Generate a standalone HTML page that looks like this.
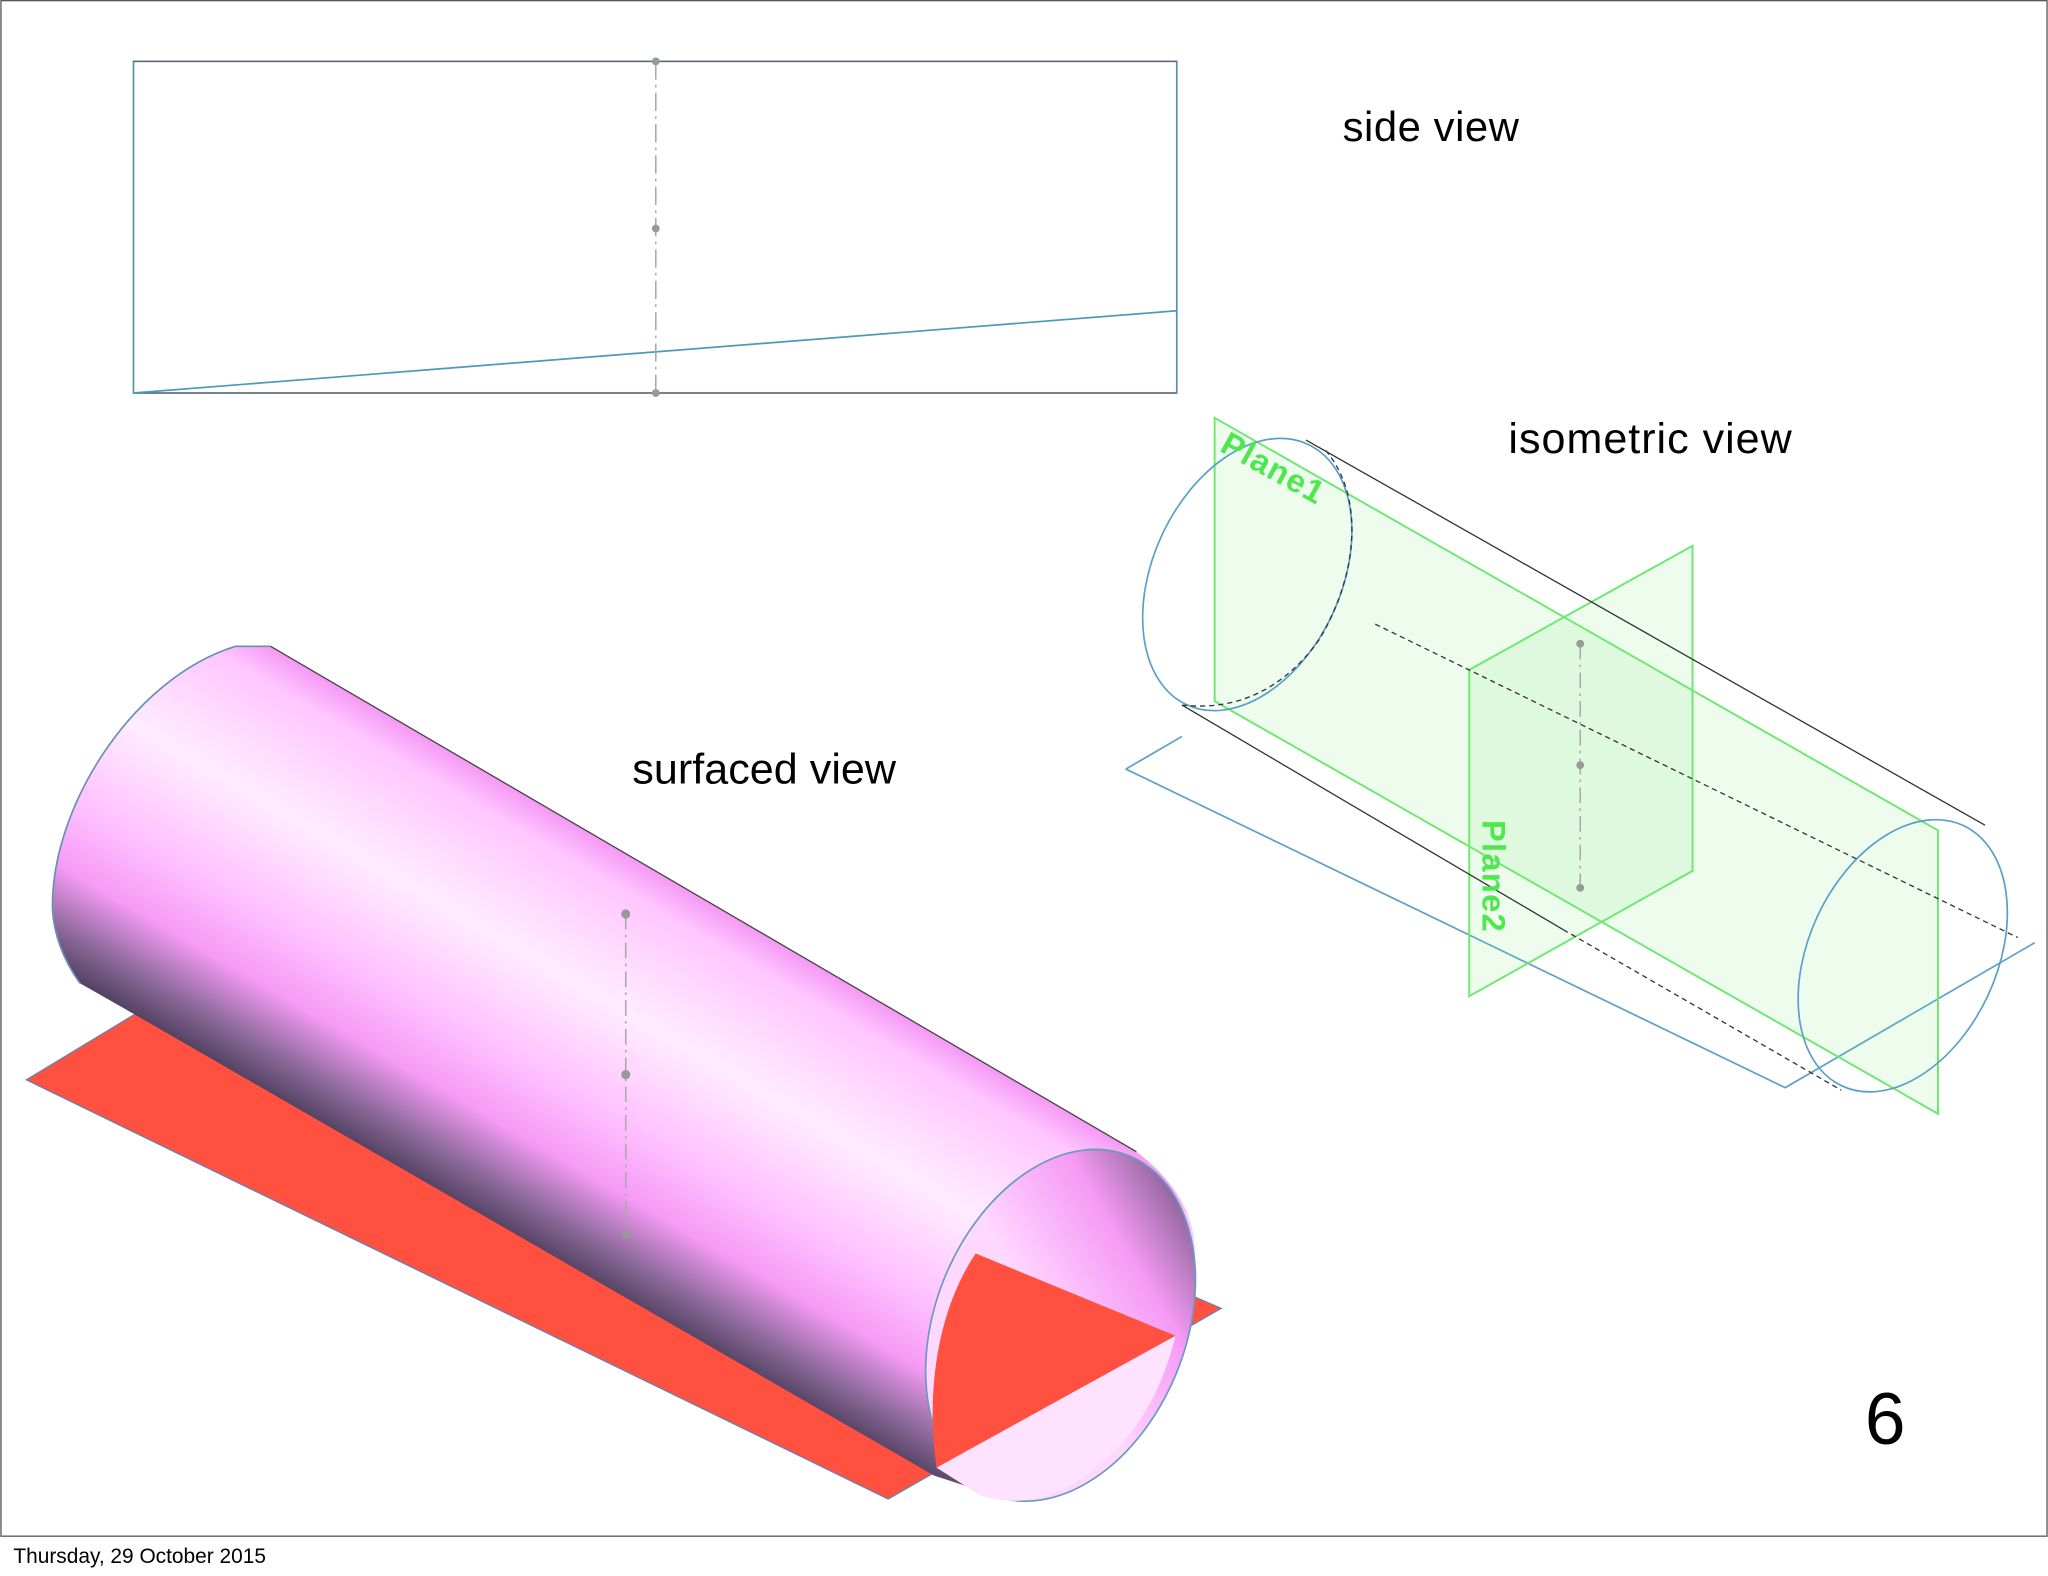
<!DOCTYPE html>
<html><head><meta charset="utf-8"><style>
html,body{margin:0;padding:0;background:#fff;}
svg{display:block;}
</style></head><body>
<svg width="2048" height="1576" viewBox="0 0 1568 1207" xmlns="http://www.w3.org/2000/svg" font-family="'Liberation Sans', sans-serif">
<defs>
<linearGradient id="cyl" gradientUnits="userSpaceOnUse" x1="500" y1="667" x2="350" y2="924">
<stop offset="0" stop-color="#f59af5"/>
<stop offset="0.08" stop-color="#ffc6ff"/>
<stop offset="0.35" stop-color="#ffecff"/>
<stop offset="0.6" stop-color="#ffc0ff"/>
<stop offset="0.76" stop-color="#f59af5"/>
<stop offset="0.9" stop-color="#8a6898"/>
<stop offset="1" stop-color="#4e3f5e"/>
</linearGradient>
<linearGradient id="inner" gradientUnits="userSpaceOnUse" x1="880" y1="890" x2="790" y2="1010">
<stop offset="0" stop-color="#7a5a88"/>
<stop offset="0.45" stop-color="#f59af5"/>
<stop offset="1" stop-color="#ffd8ff"/>
</linearGradient>
</defs>
<rect x="0.5" y="0.5" width="1567" height="1176" fill="#fff" stroke="#555" stroke-width="1"/>
<text x="10" y="1197" font-size="16" fill="#000">Thursday, 29 October 2015</text>

<!-- side view -->
<rect x="102" y="47" width="799" height="254" fill="none" stroke="#5a8fb0" stroke-width="1.3"/>
<line x1="102" y1="47" x2="901" y2="47" stroke="#666" stroke-width="1"/>
<line x1="102" y1="301" x2="901" y2="301" stroke="#666" stroke-width="1"/>
<line x1="102" y1="301" x2="901" y2="238" stroke="#4a9ab8" stroke-width="1.3"/>
<line x1="502" y1="47" x2="502" y2="301" stroke="#aaa" stroke-width="1.2" stroke-dasharray="14,4,2,4"/>
<circle cx="502" cy="47" r="3" fill="#999"/><circle cx="502" cy="175" r="3" fill="#999"/><circle cx="502" cy="301" r="3" fill="#999"/>
<text x="1028" y="108" font-size="32" fill="#000" textLength="135">side view</text>

<!-- isometric view -->
<text x="1155" y="347" font-size="33" fill="#000" textLength="217">isometric view</text>
<line x1="862" y1="589" x2="905" y2="564" stroke="#5aa0c8" stroke-width="1.3"/>
<polyline points="862,589 1367,833 1558,722" fill="none" stroke="#5aa0c8" stroke-width="1.3"/>
<polygon points="930,320 1484,636 1484,853 930,537" fill="rgba(120,235,120,0.13)" stroke="#6ee86e" stroke-width="1.5"/>
<polygon points="1125,513 1296,418 1296,667 1125,763" fill="rgba(120,235,120,0.13)" stroke="#6ee86e" stroke-width="1.5"/>
<ellipse cx="955" cy="440" rx="72" ry="110" transform="rotate(25 955 440)" fill="none" stroke="#5aa0c8" stroke-width="1.3"/>
<ellipse cx="1457" cy="732" rx="72" ry="110" transform="rotate(25 1457 732)" fill="none" stroke="#5aa0c8" stroke-width="1.3"/>
<line x1="1000" y1="337" x2="1520" y2="632" stroke="#333" stroke-width="1"/>
<line x1="905" y1="540" x2="1197" y2="712" stroke="#333" stroke-width="1"/>
<line x1="1197" y1="712" x2="1410" y2="835" stroke="#333" stroke-width="1" stroke-dasharray="4,3"/>
<line x1="1053" y1="478" x2="1545" y2="718" stroke="#333" stroke-width="1" stroke-dasharray="4,3"/>
<path d="M1015,345 C1045,380 1040,440 1010,490 C985,525 950,545 905,540" fill="none" stroke="#333" stroke-width="1" stroke-dasharray="4,3"/>
<line x1="1210" y1="493" x2="1210" y2="680" stroke="#aaa" stroke-width="1.2" stroke-dasharray="12,4,2,4"/>
<circle cx="1210" cy="493" r="3" fill="#999"/><circle cx="1210" cy="586" r="3" fill="#999"/><circle cx="1210" cy="680" r="3" fill="#999"/>
<text x="933" y="345" font-size="25" font-weight="bold" fill="#4ee84e" transform="rotate(29 933 345)" letter-spacing="1">Plane1</text>
<text x="1135" y="628" font-size="25" font-weight="bold" fill="#4ee84e" transform="rotate(90 1135 628)" letter-spacing="1">Plane2</text>

<!-- surfaced view -->
<text x="484" y="600" font-size="33" fill="#000" textLength="202">surfaced view</text>
<polygon points="20,827 230,700 935,1002 680,1148" fill="#ff5040" stroke="#6a80b0" stroke-width="1"/>
<path d="M40,697 C38,620 100,520 180,495 L207,495 L870,882 C900,905 915,930 915,960 L900,1020 C880,1080 830,1140 770,1148 L715,1130 L103,777 L61,753 C48,735 41,715 40,697 Z" fill="url(#cyl)"/>
<path d="M61,753 C48,735 41,715 40,697 C38,620 100,520 180,495 L207,495" fill="none" stroke="#6a90b8" stroke-width="1.3"/>
<line x1="207" y1="495" x2="870" y2="882" stroke="#444" stroke-width="1"/>
<ellipse cx="812" cy="1015" rx="96" ry="140" transform="rotate(22 812 1015)" fill="url(#inner)" stroke="#6a9ac0" stroke-width="1.3"/>
<path d="M838,1125 C810,1148 780,1155 750,1145 L717,1124 L900,1023 C890,1065 870,1100 838,1125 Z" fill="#ffe2ff"/>
<path d="M747,960 L900,1023 L717,1124 C708,1060 720,1000 747,960 Z" fill="#ff5040"/>
<line x1="479" y1="700" x2="479" y2="945" stroke="#aaa" stroke-width="1.2" stroke-dasharray="12,4,2,4"/>
<circle cx="479" cy="700" r="3.5" fill="#999"/><circle cx="479" cy="823" r="3.5" fill="#999"/><circle cx="479" cy="945" r="3.5" fill="#999"/>

<text x="1428" y="1106" font-size="56" fill="#000">6</text>
</svg>
</body></html>
